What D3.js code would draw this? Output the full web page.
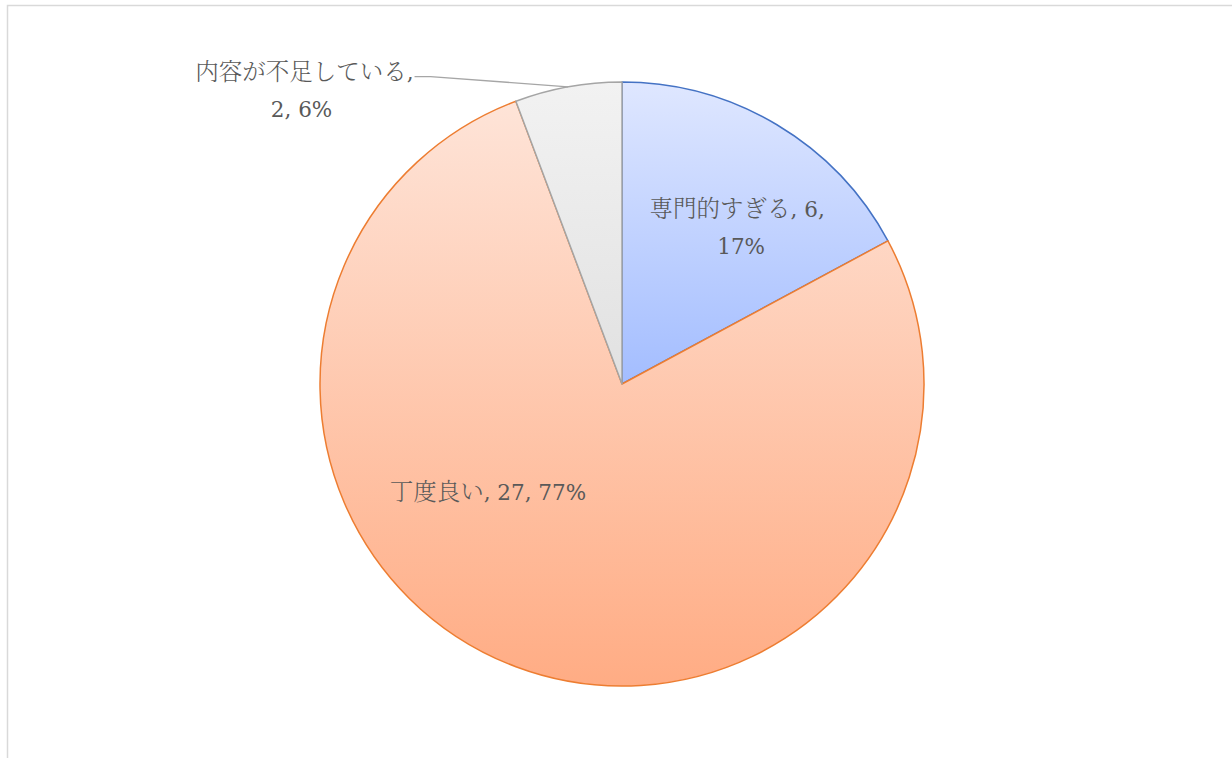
<!DOCTYPE html>
<html>
<head>
<meta charset="utf-8">
<script src="https://cdn.jsdelivr.net/npm/d3@7"></script>
<style>
  html, body { margin: 0; padding: 0; background: #fff; }
  svg { display: block; }
  text { fill: #595959; }
  .lat { font-family: "DejaVu Serif", "Liberation Serif", serif; font-size: 21.5px; }
  .cjk { font-family: "Noto Serif CJK JP", "Noto Sans CJK JP", sans-serif; font-size: 23.5px; font-weight: 300; }
</style>
</head>
<body>
<svg id="chart" width="1232" height="758"></svg>
<script>
const categories = ["専門的すぎる", "丁度良い", "内容が不足している"];
const values = [6, 27, 2];
const percents = ["17%", "77%", "6%"];

const strokeColors = ["#4472c4", "#ed7d31", "#a5a5a5"];
const gradTop = ["#dfe7ff", "#fee4d8", "#f2f2f2"];
const gradBottom = ["#a3bdff", "#ffac84", "#e1e1e1"];

const W = 1232, H = 758;
const cx = 622, cy = 384, R = 302;

const svg = d3.select("#chart");

svg.append("rect")
  .attr("x", 7.5).attr("y", 5.5)
  .attr("width", W + 20).attr("height", H + 20)
  .attr("fill", "#fff").attr("stroke", "#d9d9d9").attr("stroke-width", 1.5);

const defs = svg.append("defs");
categories.forEach((c, i) => {
  const g = defs.append("linearGradient")
    .attr("id", "grad" + i)
    .attr("x1", 0).attr("y1", 0).attr("x2", 0).attr("y2", 1);
  g.append("stop").attr("offset", "0%").attr("stop-color", gradTop[i]);
  g.append("stop").attr("offset", "100%").attr("stop-color", gradBottom[i]);
});

const data = categories.map((c, i) => ({ cat: c, value: values[i], pct: percents[i], i }));

const pie = d3.pie().value(d => d.value).sort(null);
const arcs = pie(data);
const arc = d3.arc().innerRadius(0).outerRadius(R);

const g = svg.append("g").attr("transform", `translate(${cx},${cy})`);

g.selectAll("path.slice")
  .data(arcs)
  .enter().append("path")
  .attr("class", "slice")
  .attr("d", arc)
  .attr("fill", d => `url(#grad${d.data.i})`)
  .attr("stroke", d => strokeColors[d.data.i])
  .attr("stroke-width", 1.5)
  .attr("stroke-linejoin", "round");

// Write a line of mixed CJK / Latin text as runs of tspans
function addLine(parent, str, x, y, anchor) {
  const t = parent.append("text").attr("x", x).attr("y", y).attr("text-anchor", anchor);
  const runs = [];
  for (const ch of str) {
    const isCjk = /[\u3000-\u30ff\u4e00-\u9fff]/.test(ch);
    const cls = isCjk ? "cjk" : "lat";
    if (runs.length && runs[runs.length - 1].cls === cls) runs[runs.length - 1].s += ch;
    else runs.push({ cls, s: ch });
  }
  runs.forEach(r => t.append("tspan").attr("class", r.cls).text(r.s));
  return t;
}

// Label 0: inside blue slice
{
  const a = arcs[0];
  const c = d3.arc().innerRadius(0).outerRadius(R * 1.28).centroid(a);
  addLine(g, `${a.data.cat}, ${a.data.value},`, c[0] + 16, c[1] - 1, "middle");
  addLine(g, a.data.pct, c[0] + 20, c[1] + 36, "middle");
}

// Label 1: inside orange slice
{
  const a = arcs[1];
  addLine(g, `${a.data.cat}, ${a.data.value}, ${a.data.pct}`, -R * 0.444, R * 0.358 + 8, "middle");
}

// Label 2: outside gray slice with leader line
{
  const a = arcs[2];
  const mid = (a.startAngle + a.endAngle) / 2;
  const ex = R * Math.sin(mid), ey = -R * Math.cos(mid);
  const lx = -R * 0.687, ly = -R * 1.018;
  g.append("path")
    .attr("d", d3.line()([[lx, ly], [lx + 16, ly], [ex, ey]]))
    .attr("fill", "none").attr("stroke", "#a6a6a6").attr("stroke-width", 1.3);
  addLine(g, `${a.data.cat},`, lx - 1, ly + 3, "end");
  addLine(g, `${a.data.value}, ${a.data.pct}`, lx - 113, ly + 40, "middle");
}
</script>
</body>
</html>
